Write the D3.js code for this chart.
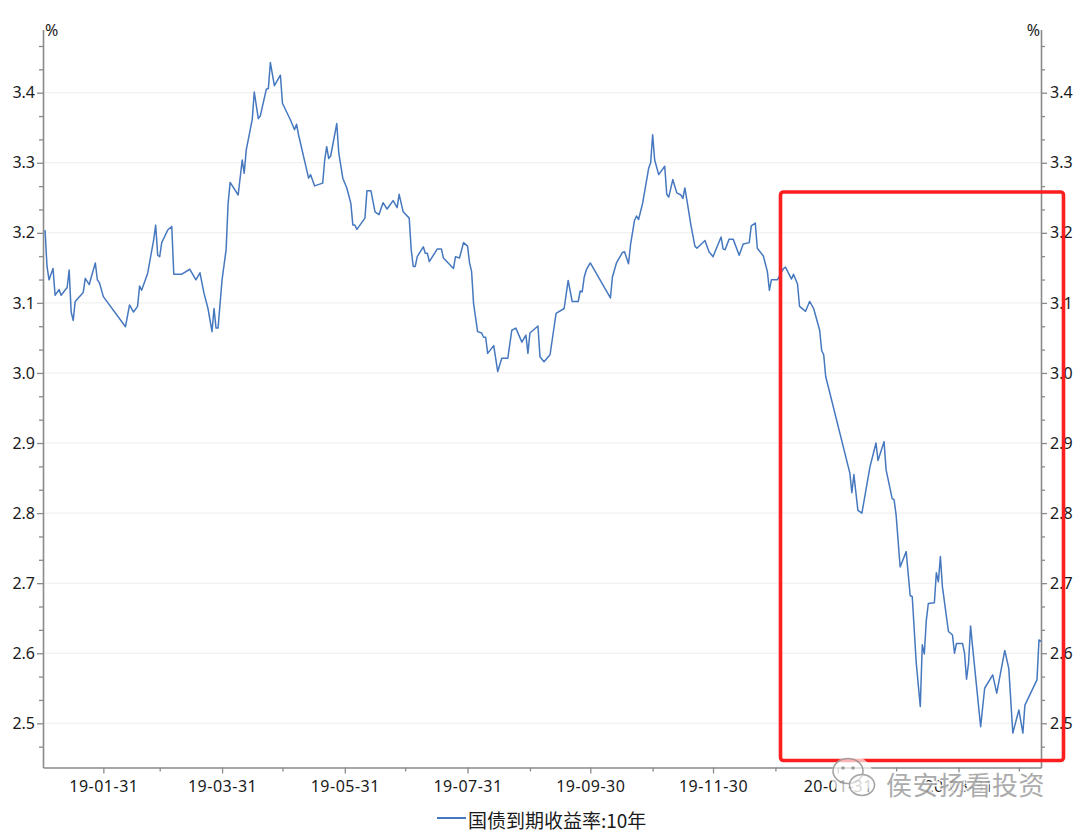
<!DOCTYPE html>
<html><head><meta charset="utf-8">
<script src="https://cdn.jsdelivr.net/npm/d3@7"></script>
<style>html,body{margin:0;padding:0;background:#fff;} svg{display:block;}</style>
</head><body><svg id="chart" width="1080" height="834"></svg>
<script>
const seriesName = "国债到期收益率:10年";
const unitLabel = "%";
const watermarkText = "侯安扬看投资";

const dates = [
"2019-01-02","2019-01-03","2019-01-04","2019-01-06","2019-01-07","2019-01-09","2019-01-10","2019-01-13","2019-01-14","2019-01-15",
"2019-01-16","2019-01-17","2019-01-21","2019-01-22","2019-01-24","2019-01-25","2019-01-27","2019-01-28","2019-01-29","2019-01-31",
"2019-02-11","2019-02-13","2019-02-15","2019-02-17","2019-02-18","2019-02-19","2019-02-22","2019-02-25","2019-02-26","2019-02-27",
"2019-02-28","2019-03-01","2019-03-04","2019-03-06","2019-03-07","2019-03-11","2019-03-15","2019-03-18","2019-03-20","2019-03-22",
"2019-03-24","2019-03-26","2019-03-27","2019-03-28","2019-03-29","2019-03-31","2019-04-02","2019-04-03","2019-04-04","2019-04-08",
"2019-04-10","2019-04-11","2019-04-12","2019-04-15","2019-04-16","2019-04-18","2019-04-19","2019-04-22","2019-04-23","2019-04-24",
"2019-04-26","2019-04-29","2019-04-30","2019-05-04","2019-05-06","2019-05-07","2019-05-08","2019-05-13","2019-05-14","2019-05-16",
"2019-05-20","2019-05-21","2019-05-22","2019-05-23","2019-05-24","2019-05-27","2019-05-28","2019-05-30","2019-06-01","2019-06-03",
"2019-06-04","2019-06-05","2019-06-06","2019-06-10","2019-06-11","2019-06-13","2019-06-15","2019-06-17","2019-06-19","2019-06-21",
"2019-06-24","2019-06-26","2019-06-27","2019-06-29","2019-07-02","2019-07-03","2019-07-04","2019-07-05","2019-07-06","2019-07-09",
"2019-07-10","2019-07-11","2019-07-12","2019-07-16","2019-07-18","2019-07-19","2019-07-24","2019-07-25","2019-07-27","2019-07-29",
"2019-07-31","2019-08-01","2019-08-02","2019-08-03","2019-08-05","2019-08-07","2019-08-08","2019-08-09","2019-08-10","2019-08-13",
"2019-08-15","2019-08-17","2019-08-20","2019-08-22","2019-08-24","2019-08-27","2019-08-29","2019-08-30","2019-08-31","2019-09-04",
"2019-09-05","2019-09-07","2019-09-10","2019-09-13","2019-09-17","2019-09-19","2019-09-21","2019-09-24","2019-09-25","2019-09-26",
"2019-09-27","2019-09-28","2019-09-30","2019-10-10","2019-10-11","2019-10-13","2019-10-16","2019-10-17","2019-10-19","2019-10-20",
"2019-10-22","2019-10-23","2019-10-24","2019-10-26","2019-10-29","2019-10-30","2019-10-31","2019-11-01","2019-11-03","2019-11-06",
"2019-11-07","2019-11-08","2019-11-10","2019-11-12","2019-11-14","2019-11-15","2019-11-16","2019-11-17","2019-11-19","2019-11-21",
"2019-11-22","2019-11-26","2019-11-28","2019-11-30","2019-12-04","2019-12-05","2019-12-06","2019-12-08","2019-12-10","2019-12-13",
"2019-12-15","2019-12-18","2019-12-19","2019-12-21","2019-12-22","2019-12-25","2019-12-27","2019-12-28","2019-12-29","2020-01-01",
"2020-01-04","2020-01-05","2020-01-08","2020-01-09","2020-01-11","2020-01-12","2020-01-15","2020-01-17","2020-01-19","2020-01-22",
"2020-01-23","2020-01-24","2020-01-25","2020-02-06","2020-02-07","2020-02-08","2020-02-10","2020-02-12","2020-02-14","2020-02-16",
"2020-02-19","2020-02-20","2020-02-23","2020-02-24","2020-02-27","2020-02-28","2020-02-29","2020-03-02","2020-03-05","2020-03-07",
"2020-03-08","2020-03-10","2020-03-12","2020-03-13","2020-03-14","2020-03-15","2020-03-16","2020-03-19","2020-03-20","2020-03-21",
"2020-03-22","2020-03-23","2020-03-26","2020-03-28","2020-03-29","2020-03-30","2020-04-02","2020-04-03","2020-04-04","2020-04-05",
"2020-04-06","2020-04-07","2020-04-11","2020-04-13","2020-04-17","2020-04-19","2020-04-23","2020-04-25","2020-04-27","2020-04-30",
"2020-05-02","2020-05-03","2020-05-09","2020-05-10","2020-05-11"
];
const yields = [
3.204,3.152,3.133,3.149,3.111,3.119,3.111,3.122,3.147,3.087,
3.075,3.102,3.115,3.135,3.126,3.137,3.157,3.133,3.129,3.109,
3.066,3.097,3.087,3.095,3.124,3.118,3.142,3.190,3.211,3.168,
3.166,3.186,3.204,3.209,3.141,3.141,3.148,3.133,3.143,3.114,
3.092,3.059,3.092,3.064,3.064,3.133,3.176,3.242,3.272,3.254,
3.304,3.285,3.318,3.362,3.401,3.363,3.367,3.405,3.406,3.443,
3.410,3.425,3.385,3.361,3.347,3.355,3.340,3.278,3.283,3.267,
3.271,3.304,3.323,3.306,3.310,3.356,3.314,3.278,3.264,3.242,
3.211,3.211,3.205,3.221,3.260,3.260,3.230,3.226,3.243,3.234,
3.246,3.236,3.255,3.230,3.221,3.176,3.152,3.152,3.166,3.180,
3.171,3.171,3.159,3.177,3.177,3.164,3.149,3.166,3.164,3.186,
3.181,3.157,3.145,3.099,3.059,3.057,3.051,3.051,3.028,3.039,
3.002,3.021,3.021,3.061,3.064,3.044,3.054,3.028,3.057,3.067,
3.023,3.016,3.026,3.085,3.092,3.132,3.102,3.102,3.117,3.116,
3.137,3.147,3.157,3.107,3.137,3.157,3.172,3.173,3.156,3.183,
3.218,3.224,3.219,3.242,3.292,3.300,3.340,3.304,3.283,3.295,
3.255,3.251,3.276,3.257,3.254,3.249,3.264,3.247,3.211,3.181,
3.178,3.189,3.173,3.166,3.194,3.177,3.176,3.191,3.191,3.168,
3.184,3.186,3.210,3.214,3.178,3.167,3.145,3.118,3.133,3.133,
3.149,3.151,3.134,3.141,3.127,3.095,3.088,3.102,3.092,3.061,
3.032,3.026,2.995,2.857,2.829,2.855,2.804,2.800,2.833,2.866,
2.900,2.875,2.902,2.862,2.821,2.819,2.797,2.723,2.745,2.682,
2.681,2.586,2.524,2.612,2.599,2.647,2.671,2.672,2.715,2.702,
2.738,2.695,2.631,2.626,2.600,2.614,2.614,2.600,2.563,2.586,
2.639,2.609,2.495,2.550,2.569,2.543,2.604,2.578,2.486,2.519,
2.486,2.526,2.562,2.619,2.617
];

const xMajorTicks = ["2019-01-31","2019-03-31","2019-05-31","2019-07-31","2019-09-30","2019-11-30","2020-01-31","2020-03-31"];
const xMajorLabels = ["19-01-31","19-03-31","19-05-31","19-07-31","19-09-30","19-11-30","20-01-31","20-03-31"];
const xMinorTicks = ["2019-02-28","2019-04-30","2019-06-30","2019-08-31","2019-10-31","2019-12-31","2020-02-29","2020-04-30"];
const yMajorTicks = [2.5,2.6,2.7,2.8,2.9,3.0,3.1,3.2,3.3,3.4];
const yMajorLabels = ["2.5","2.6","2.7","2.8","2.9","3.0","3.1","3.2","3.3","3.4"];

const parse = d3.timeParse("%Y-%m-%d");
const data = dates.map((d,i)=>({date:parse(d), value:yields[i]}));

const L=43, R=1041, T=29.5, B=767.5;
const x = d3.scaleTime().domain([parse("2019-01-01"), parse("2020-05-11")]).range([L,R]);
const y = d3.scaleLinear().domain([2.4369, 3.4902]).range([B,T]);

const svg = d3.select("#chart");
const FONT = "'Noto Sans','Noto Sans CJK SC',sans-serif";
const AXC = "#8a8a8a";

// grid
svg.append("g").selectAll("line").data(yMajorTicks).join("line")
  .attr("x1",L).attr("x2",R).attr("y1",d=>y(d)).attr("y2",d=>y(d))
  .attr("stroke","#ededed").attr("stroke-width",1);

// minor y ticks (every 1/30)
const yMinor = d3.range(-2,31).map(k=>2.5+k/30).filter(v=>v>y.domain()[0]&&v<y.domain()[1]&&Math.abs((v*10)-Math.round(v*10))>1e-6);

function styleAxis(g){
  g.select(".domain").attr("stroke",AXC).attr("stroke-width",1.6);
  g.selectAll(".tick line").attr("stroke",AXC).attr("stroke-width",1.3);
  g.selectAll("text").attr("font-family",FONT).attr("font-size",16).attr("fill","#1a1a1a");
}

const gLm = svg.append("g").attr("transform",`translate(${L},0)`)
  .call(d3.axisLeft(y).tickValues(yMinor).tickSize(4).tickFormat("")).call(styleAxis);
gLm.select(".domain").remove();
const gRm = svg.append("g").attr("transform",`translate(${R},0)`)
  .call(d3.axisRight(y).tickValues(yMinor).tickSize(4).tickFormat("")).call(styleAxis);
gRm.select(".domain").remove();

svg.append("g").attr("transform",`translate(${L},0)`)
  .call(d3.axisLeft(y).tickValues(yMajorTicks).tickSize(6).tickSizeOuter(0).tickPadding(2)
    .tickFormat((d,i)=>yMajorLabels[i])).call(styleAxis);
svg.append("g").attr("transform",`translate(${R},0)`)
  .call(d3.axisRight(y).tickValues(yMajorTicks).tickSize(6).tickSizeOuter(0).tickPadding(3)
    .tickFormat((d,i)=>yMajorLabels[i])).call(styleAxis);

// x axis
const gxm = svg.append("g").attr("transform",`translate(0,${B})`)
  .call(d3.axisBottom(x).tickValues(xMinorTicks.map(parse)).tickSize(4).tickFormat("")).call(styleAxis);
gxm.select(".domain").remove();
svg.append("g").attr("transform",`translate(0,${B})`)
  .call(d3.axisBottom(x).tickValues(xMajorTicks.map(parse)).tickSize(6).tickSizeOuter(0).tickPadding(7)
    .tickFormat((d,i)=>xMajorLabels[i])).call(styleAxis)
  .selectAll("text").attr("letter-spacing","0.5px");

// unit labels
svg.append("text").attr("x",L+2).attr("y",36).attr("font-family",FONT).attr("font-size",16).attr("fill","#1a1a1a").text(unitLabel);
svg.append("text").attr("x",R-1).attr("y",36).attr("text-anchor","end").attr("font-family",FONT).attr("font-size",16).attr("fill","#1a1a1a").text(unitLabel);

// line
const line = d3.line().x(d=>x(d.date)).y(d=>y(d.value));
svg.append("path").datum(data).attr("d",line).attr("fill","none")
  .attr("stroke","#4678bf").attr("stroke-width",1.5).attr("stroke-linejoin","round");

// red highlight box
svg.append("rect").attr("x",780.5).attr("y",192).attr("width",283).attr("height",568.5)
  .attr("rx",3).attr("fill","none").attr("stroke","#fb1f1f").attr("stroke-width",3.6);

// legend
svg.append("line").attr("x1",437).attr("x2",466).attr("y1",818).attr("y2",818)
  .attr("stroke","#4678bf").attr("stroke-width",2);
svg.append("text").attr("x",468).attr("y",828).attr("font-family","'Noto Sans CJK SC',sans-serif")
  .attr("font-size",19).attr("fill","#1a1a1a").text(seriesName);

// watermark
const wm = svg.append("g").attr("opacity",0.9);
wm.append("ellipse").attr("cx",852).attr("cy",776).attr("rx",21).attr("ry",20).attr("fill","#fff").attr("opacity",0.75);
wm.append("ellipse").attr("cx",848).attr("cy",771).attr("rx",15).attr("ry",12.5).attr("fill","none").attr("stroke","#9c9c9c").attr("stroke-width",1.6);
wm.append("ellipse").attr("cx",862).attr("cy",785).attr("rx",12.5).attr("ry",10.5).attr("fill","#fff").attr("fill-opacity",0.6).attr("stroke","#9c9c9c").attr("stroke-width",1.6);
wm.append("circle").attr("cx",843).attr("cy",768).attr("r",1.8).attr("fill","#9c9c9c");
wm.append("circle").attr("cx",853).attr("cy",768).attr("r",1.8).attr("fill","#9c9c9c");
wm.append("text").attr("x",886).attr("y",795).attr("font-family","'Noto Sans CJK SC',sans-serif")
  .attr("font-size",26).attr("fill","#a3a3a3").attr("stroke","#fff").attr("stroke-width",3)
  .attr("paint-order","stroke").attr("letter-spacing","0.5px").text(watermarkText);
</script>
</body></html>
